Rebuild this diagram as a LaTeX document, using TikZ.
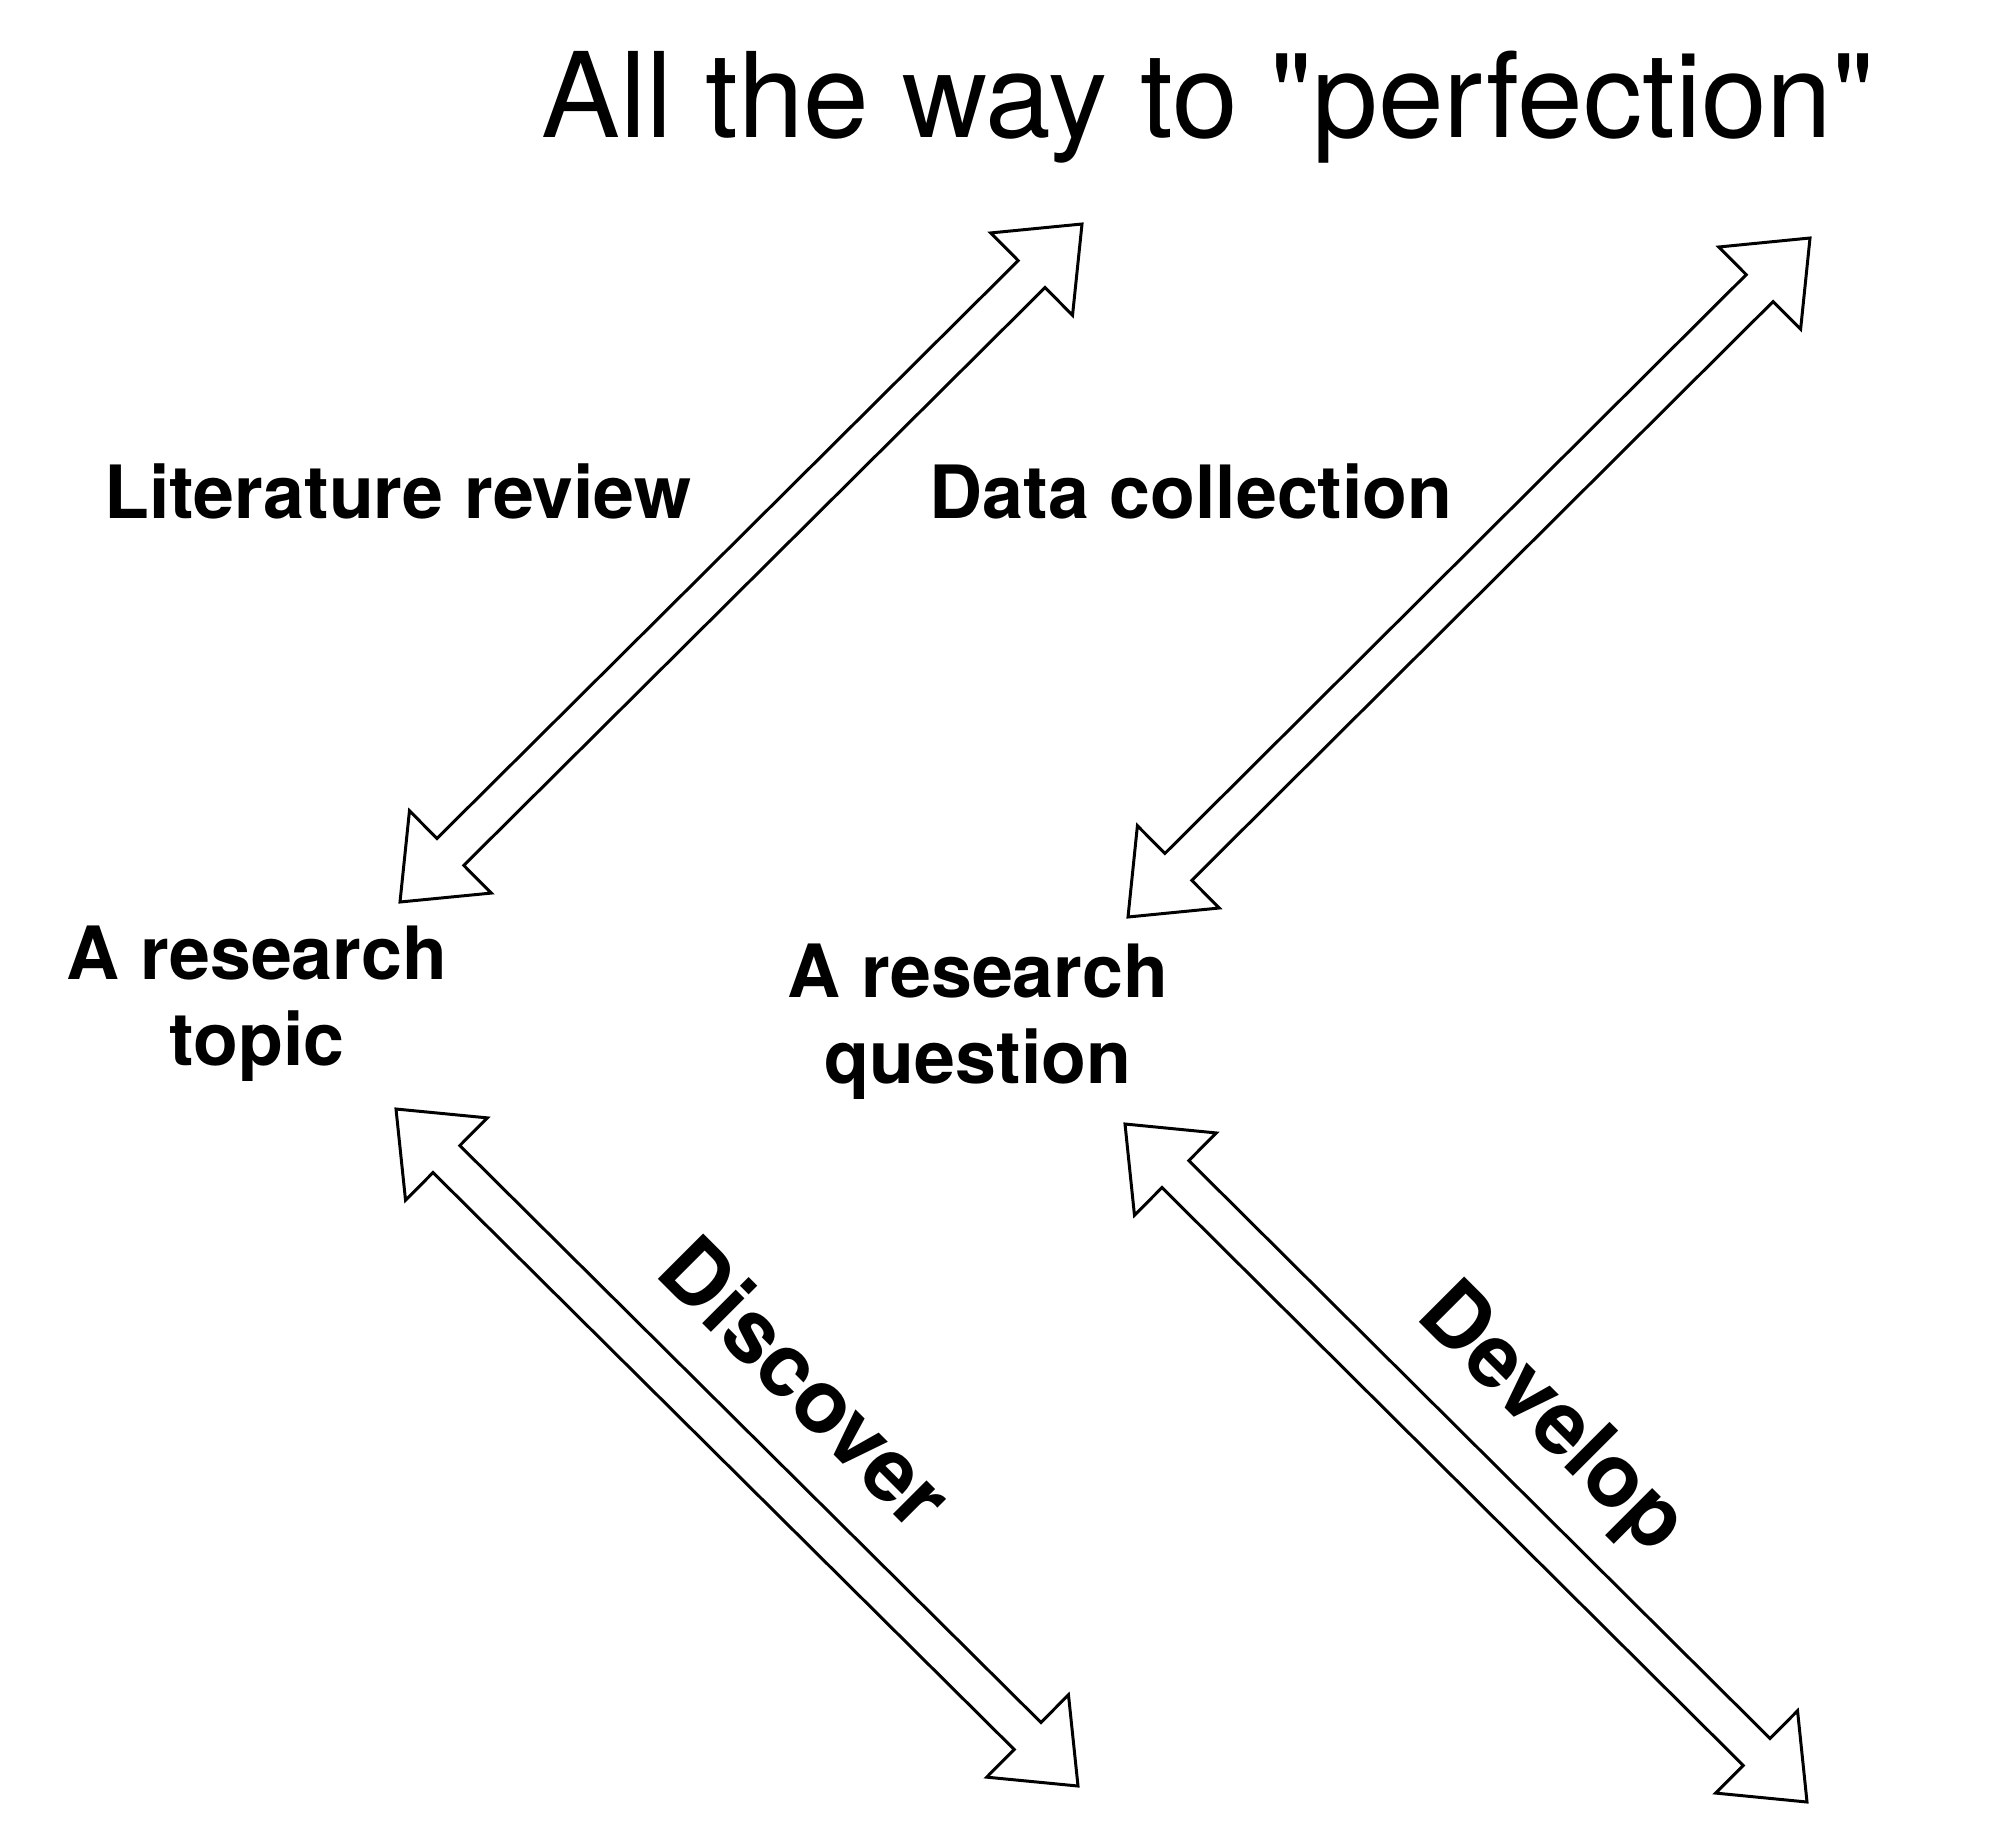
\documentclass[tikz,border=0pt]{standalone}
\usepackage{fontspec}
\setmainfont{TeX Gyre Heros}[Ligatures=TeXOff]
\usepackage{tikz}
\usetikzlibrary{calc}

\begin{document}
\begin{tikzpicture}[x=0.01cm,y=-0.01cm,line join=miter]
  % Local definitions
  \def\headlen{0.71cm}
  \def\headhalf{0.58cm}
  \def\shafthalf{0.19cm}
  % Styles
  \tikzstyle{block arrow}=[draw=black,fill=white,line width=0.85pt]
  \tikzstyle{title text}=[inner sep=0pt,anchor=base,font=\fontsize{33.6pt}{40pt}\selectfont]
  \tikzstyle{step text}=[inner sep=0pt,anchor=base,align=center,font=\bfseries\fontsize{20.9pt}{24.3pt}\selectfont]
  \tikzstyle{phase text}=[inner sep=0pt,anchor=base,rotate=-45,font=\bfseries\fontsize{25pt}{30pt}\selectfont]

  \useasboundingbox (0,0) rectangle (2000,1833);

  % Ends of the arrows
  \coordinate (lit1) at (400,902);
  \coordinate (lit2) at (1082,224);
  \coordinate (dat1) at (1128,917);
  \coordinate (dat2) at (1810,238);
  \coordinate (dis1) at (396,1109);
  \coordinate (dis2) at (1078,1786);
  \coordinate (dev1) at (1125,1124);
  \coordinate (dev2) at (1807,1802);

  % The graphic
  \foreach \a/\b in {lit1/lit2, dat1/dat2, dis1/dis2, dev1/dev2}
    \draw[style=block arrow] (\a)
      -- ($(\a)!\headlen!(\b)!\headhalf!90:(\b)$)
      -- ($(\a)!\headlen!(\b)!\shafthalf!90:(\b)$)
      -- ($(\b)!\headlen!(\a)!\shafthalf!-90:(\a)$)
      -- ($(\b)!\headlen!(\a)!\headhalf!-90:(\a)$)
      -- (\b)
      -- ($(\b)!\headlen!(\a)!\headhalf!90:(\a)$)
      -- ($(\b)!\headlen!(\a)!\shafthalf!90:(\a)$)
      -- ($(\a)!\headlen!(\b)!\shafthalf!-90:(\b)$)
      -- ($(\a)!\headlen!(\b)!\headhalf!-90:(\b)$)
      -- cycle;

  % Texts
  \node[style=title text] (title) at (1208,137) {All the way to "perfection"};
  \node[style=step text] (litreview) at (398,518) {Literature review};
  \node[style=step text] (datacoll) at (1191,518) {Data collection};
  \node[style=step text] (topic) at (257,1065) {A research\\topic};
  \node[style=step text] (question) at (978,1083) {A research\\question};
  \node[style=phase text] (discover) at (784,1405) {Discover};
  \node[style=phase text] (develop) at (1534,1437) {Develop};
\end{tikzpicture}
\end{document}
